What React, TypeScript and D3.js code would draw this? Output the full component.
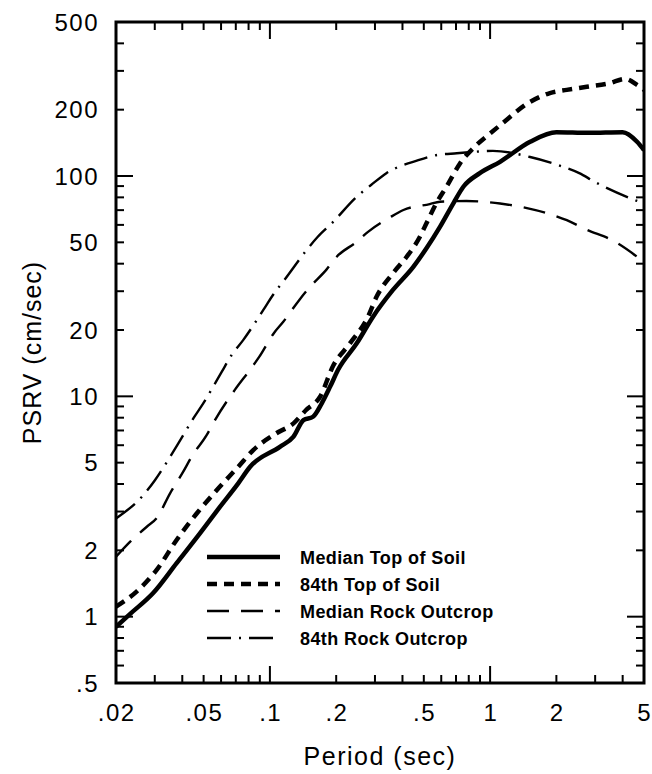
import React from "react";
import * as d3 from "d3";

// ---- data ----
const soilMedianPeriods = [0.02, 0.0232, 0.0295, 0.0377, 0.0481, 0.0593, 0.0718, 0.0813, 0.111, 0.128, 0.142, 0.157, 0.172, 0.188, 0.204, 0.248, 0.294, 0.362, 0.448, 0.514, 0.592, 0.681, 0.756, 0.898, 1.11, 1.52, 2.0, 2.8, 4.0, 4.65, 5.0];
const soilMedianValues = [0.9, 1.03, 1.28, 1.75, 2.39, 3.15, 4.03, 4.79, 5.9, 6.56, 7.8, 8.08, 9.3, 11.1, 13.2, 17.4, 23, 30.4, 38.7, 47, 58.8, 75.2, 89.4, 103, 116, 143, 158, 157, 158, 143, 131];

const soil84Periods = [0.02, 0.0248, 0.0306, 0.0377, 0.0465, 0.0573, 0.0718, 0.084, 0.107, 0.128, 0.146, 0.169, 0.194, 0.231, 0.279, 0.305, 0.362, 0.418, 0.48, 0.514, 0.57, 0.634, 0.73, 0.866, 1.0, 1.11, 1.52, 1.87, 2.23, 2.75, 3.5, 4.1, 4.65, 5.0];
const soil84Values = [1.11, 1.3, 1.63, 2.23, 2.94, 3.75, 4.79, 5.7, 6.8, 7.54, 8.67, 9.96, 13.8, 17.4, 23, 28.3, 36.2, 43, 53, 61, 75.2, 89.4, 114, 138, 156, 170, 217, 238, 246, 254, 264, 276, 259, 246];

const rockMedianPeriods = [0.02, 0.0232, 0.0276, 0.0306, 0.0352, 0.0404, 0.0441, 0.0516, 0.0563, 0.0693, 0.0826, 0.0894, 0.104, 0.115, 0.136, 0.15, 0.181, 0.201, 0.248, 0.279, 0.351, 0.404, 0.532, 0.592, 0.78, 1.11, 1.47, 1.93, 2.23, 2.75, 3.6, 5.0];
const rockMedianValues = [1.87, 2.19, 2.56, 2.8, 3.63, 4.55, 5.32, 6.67, 7.8, 10.7, 13.5, 15.1, 19.3, 21.8, 27.4, 30.9, 37.7, 43, 50.3, 55.8, 64.9, 70.1, 74.6, 76.4, 77, 75, 71.5, 66.5, 63, 57, 51, 40.7];

const rock84Periods = [0.02, 0.0266, 0.0301, 0.0334, 0.0404, 0.0449, 0.0498, 0.0604, 0.067, 0.0756, 0.0932, 0.1036, 0.117, 0.146, 0.165, 0.191, 0.248, 0.288, 0.338, 0.472, 0.574, 0.706, 1.03, 1.52, 2.15, 2.54, 2.99, 4.3, 5.0];
const rock84Values = [2.79, 3.56, 4.17, 4.88, 6.67, 7.94, 9.29, 12.9, 15.4, 18.0, 24.6, 29.0, 34, 45.8, 53, 61, 80.5, 91, 103, 118, 124.5, 126.8, 130, 122, 110, 103, 94, 79.5, 75];

const seriesNames = ["Median Top of Soil", "84th Top of Soil", "Median Rock Outcrop", "84th Rock Outcrop"];

const xTickValues = [0.02, 0.05, 0.1, 0.2, 0.5, 1, 2, 5];
const xTickLabels = [".02", ".05", ".1", ".2", ".5", "1", "2", "5"];
const yTickValues = [0.5, 1, 2, 5, 10, 20, 50, 100, 200, 500];
const yTickLabels = [".5", "1", "2", "5", "10", "20", "50", "100", "200", "500"];

const xTitle = "Period (sec)";
const yTitle = "PSRV (cm/sec)";

// ---- layout ----
const W = 652;
const H = 774;
const L = 116, R = 644, T = 22, B = 683;
const FONT = "'Liberation Sans', Arial, Helvetica, sans-serif";

const styles = [
  { width: 4.5, dash: "" },
  { width: 4.5, dash: "10,7" },
  { width: 2.4, dash: "22,12" },
  { width: 2.4, dash: "24,8,2,8" },
];

export default function App() {
  const x = d3.scaleLog().domain([0.02, 5]).range([L, R]);
  const y = d3.scaleLog().domain([0.5, 500]).range([B, T]);

  const series = [
    d3.zip(soilMedianPeriods, soilMedianValues),
    d3.zip(soil84Periods, soil84Values),
    d3.zip(rockMedianPeriods, rockMedianValues),
    d3.zip(rock84Periods, rock84Values),
  ];

  const line = d3
    .line<number[]>()
    .x((d) => x(d[0]))
    .y((d) => y(d[1]))
    .curve(d3.curveMonotoneX);

  const xt = x.ticks(20);
  const yt = y.ticks(30);
  const isDecade = (v: number) => Math.abs(Math.log10(v) - Math.round(Math.log10(v))) < 1e-6;
  const minorLen = 8;
  const majorLen = 17;

  const legendX1 = 207, legendX2 = 280, legendTextX = 300;
  const legendY0 = 557, legendDY = 27;

  return (
    <svg width={W} height={H} style={{ position: "absolute", left: 0, top: 0, background: "#fff" }} fontFamily={FONT}>
      <defs>
        <clipPath id="plotclip">
          <rect x={L} y={T} width={R - L} height={B - T} />
        </clipPath>
      </defs>
      <rect x={0} y={0} width={W} height={H} fill="#fff" />

      {/* ticks */}
      <g stroke="#000" strokeWidth={2}>
        {xt.map((v, i) => {
          const px = x(v);
          const len = isDecade(v) ? majorLen : minorLen;
          return (
            <g key={"xt" + i}>
              <line x1={px} x2={px} y1={B} y2={B - len} />
              <line x1={px} x2={px} y1={T} y2={T + len} />
            </g>
          );
        })}
        {yt.map((v, i) => {
          const py = y(v);
          const len = isDecade(v) ? majorLen : minorLen;
          return (
            <g key={"yt" + i}>
              <line x1={L} x2={L + len} y1={py} y2={py} />
              <line x1={R} x2={R - len} y1={py} y2={py} />
            </g>
          );
        })}
      </g>

      {/* series */}
      <g clipPath="url(#plotclip)" fill="none" stroke="#000">
        {series.map((s, i) => (
          <path
            key={"s" + i}
            d={line(s as number[][]) || ""}
            strokeWidth={styles[i].width}
            strokeDasharray={styles[i].dash || undefined}
            strokeLinejoin="round"
          />
        ))}
      </g>

      {/* frame */}
      <rect x={L} y={T} width={R - L} height={B - T} fill="none" stroke="#000" strokeWidth={3} />

      {/* tick labels */}
      <g fontSize={24} fill="#000" letterSpacing={1.5}>
        {xTickValues.map((v, i) => (
          <text key={"xl" + i} x={x(v) + 0.75} y={721} textAnchor="middle">
            {xTickLabels[i]}
          </text>
        ))}
        {yTickValues.map((v, i) => (
          <text key={"yl" + i} x={99} y={y(v) + 8.5} textAnchor="end">
            {yTickLabels[i]}
          </text>
        ))}
      </g>

      {/* axis titles */}
      <text x={(L + R) / 2} y={765} textAnchor="middle" fontSize={25} letterSpacing={1.5} fill="#000">
        {xTitle}
      </text>
      <text
        transform={`translate(41, ${(T + B) / 2}) rotate(-90)`}
        textAnchor="middle"
        fontSize={25}
        letterSpacing={1}
        fill="#000"
      >
        {yTitle}
      </text>

      {/* legend */}
      <g>
        {seriesNames.map((name, i) => (
          <g key={"lg" + i}>
            <line
              x1={legendX1}
              x2={legendX2}
              y1={legendY0 + i * legendDY}
              y2={legendY0 + i * legendDY}
              stroke="#000"
              strokeWidth={styles[i].width}
              strokeDasharray={styles[i].dash || undefined}
            />
            <text x={legendTextX} y={legendY0 + i * legendDY + 6.5} fontSize={18} fontWeight={600} letterSpacing={0.4} fill="#000">
              {name}
            </text>
          </g>
        ))}
      </g>
    </svg>
  );
}
